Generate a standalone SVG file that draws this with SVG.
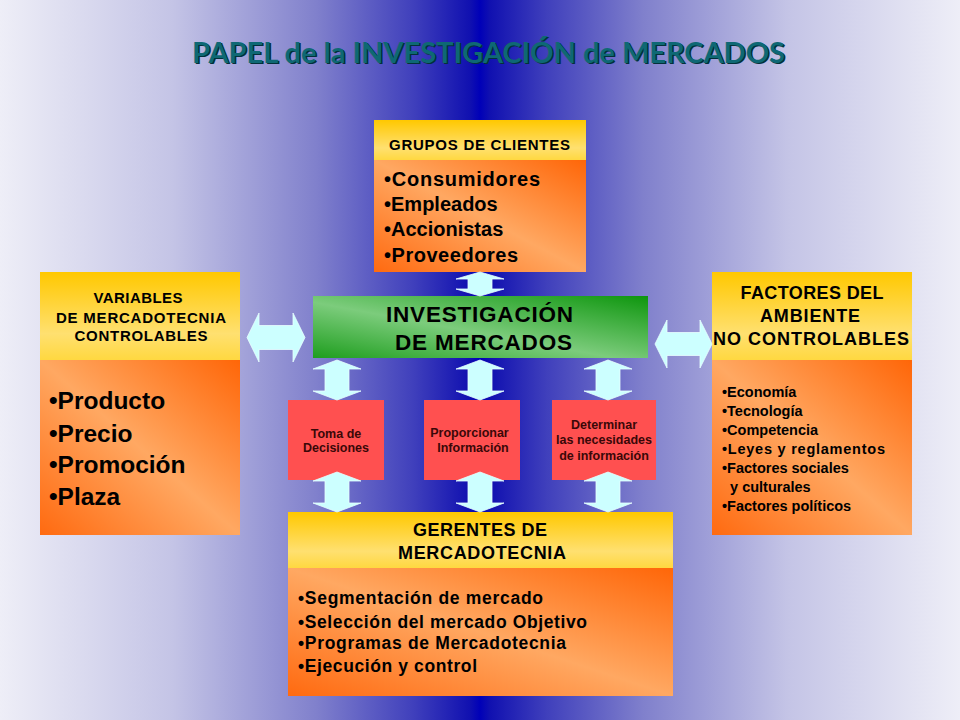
<svg xmlns="http://www.w3.org/2000/svg" width="960" height="720" viewBox="0 0 960 720">
<defs>
  <linearGradient id="bg" x1="0" y1="0" x2="1" y2="0">
    <stop offset="0" stop-color="#eeeef7"/>
    <stop offset="0.18" stop-color="#c4c4e6"/>
    <stop offset="0.33" stop-color="#8080cc"/>
    <stop offset="0.43" stop-color="#4040bc"/>
    <stop offset="0.49" stop-color="#1010b0"/>
    <stop offset="0.5" stop-color="#0000b8"/>
    <stop offset="0.51" stop-color="#1010b0"/>
    <stop offset="0.57" stop-color="#4040bc"/>
    <stop offset="0.67" stop-color="#8080cc"/>
    <stop offset="0.82" stop-color="#c4c4e6"/>
    <stop offset="1" stop-color="#eeeef7"/>
  </linearGradient>
  <linearGradient id="org" x1="0" y1="1" x2="1" y2="0">
    <stop offset="0" stop-color="#ff6a10"/>
    <stop offset="0.5" stop-color="#ffa862"/>
    <stop offset="1" stop-color="#ff6608"/>
  </linearGradient>
  <linearGradient id="yel" x1="0" y1="0" x2="0" y2="1">
    <stop offset="0" stop-color="#ffc800"/>
    <stop offset="0.7" stop-color="#ffe070"/>
    <stop offset="1" stop-color="#ffd840"/>
  </linearGradient>
  <linearGradient id="grn" x1="0" y1="1" x2="1" y2="0">
    <stop offset="0" stop-color="#1e9e1e"/>
    <stop offset="0.45" stop-color="#7ccc7c"/>
    <stop offset="1" stop-color="#0e960e"/>
  </linearGradient>
  <style>
    .t{font-family:"Liberation Sans",Arial,sans-serif;font-weight:bold;fill:#000}
    .hd{font-size:15px}
    .rt{font-size:12.5px;fill:#3a0808}
    .arw{fill:#ccffff;stroke:#e8ffff;stroke-width:0.8}
    .red{fill:#ff5050}
  </style>
</defs>

<rect x="0" y="0" width="960" height="720" fill="url(#bg)"/>

<g id="title">
  <text x="490" y="64" text-anchor="middle" font-family="Lato,'Open Sans',sans-serif" font-weight="bold" font-size="29" fill="#03303a" textLength="593" lengthAdjust="spacingAndGlyphs">PAPEL de la INVESTIGACIÓN de MERCADOS</text>
  <text x="488.5" y="62.5" text-anchor="middle" font-family="Lato,'Open Sans',sans-serif" font-weight="bold" font-size="29" fill="#0e6874" textLength="593" lengthAdjust="spacingAndGlyphs">PAPEL de la INVESTIGACIÓN de MERCADOS</text>
</g>

<g id="grupos-clientes">
  <rect x="374" y="120" width="212" height="40" fill="url(#yel)"/>
  <rect x="374" y="160" width="212" height="112" fill="url(#org)"/>
  <text class="t hd" x="389" y="150" textLength="181" lengthAdjust="spacing">GRUPOS DE CLIENTES</text>
  <g class="t" font-size="20">
    <text x="384" y="186" textLength="156" lengthAdjust="spacing">•Consumidores</text>
    <text x="384" y="211">•Empleados</text>
    <text x="384" y="236">•Accionistas</text>
    <text x="384" y="262" textLength="134" lengthAdjust="spacing">•Proveedores</text>
  </g>
</g>

<g id="investigacion">
  <rect x="313" y="296" width="335" height="62" fill="url(#grn)"/>
  <text class="t" font-size="22.5" x="386" y="322" textLength="187" lengthAdjust="spacing">INVESTIGACIÓN</text>
  <text class="t" font-size="22.5" x="395" y="350" textLength="177" lengthAdjust="spacing">DE MERCADOS</text>
</g>

<g id="variables">
  <rect x="40" y="272" width="200" height="88" fill="url(#yel)"/>
  <rect x="40" y="360" width="200" height="175" fill="url(#org)"/>
  <g class="t hd" text-anchor="middle">
    <text x="138" y="303" textLength="89" lengthAdjust="spacing">VARIABLES</text>
    <text x="141" y="323" textLength="170" lengthAdjust="spacing">DE MERCADOTECNIA</text>
    <text x="141" y="341" textLength="133" lengthAdjust="spacing">CONTROLABLES</text>
  </g>
  <g class="t" font-size="24.5">
    <text x="49" y="409">•Producto</text>
    <text x="49" y="442">•Precio</text>
    <text x="49" y="473">•Promoción</text>
    <text x="49" y="505">•Plaza</text>
  </g>
</g>

<g id="factores">
  <rect x="712" y="272" width="200" height="88" fill="url(#yel)"/>
  <rect x="712" y="360" width="200" height="175" fill="url(#org)"/>
  <g class="t" font-size="18" text-anchor="middle">
    <text x="812" y="299" textLength="143" lengthAdjust="spacing">FACTORES DEL</text>
    <text x="810" y="322" textLength="100" lengthAdjust="spacing">AMBIENTE</text>
    <text x="811" y="345" textLength="196" lengthAdjust="spacing">NO  CONTROLABLES</text>
  </g>
  <g class="t" font-size="14.5">
    <text x="722" y="397">•Economía</text>
    <text x="722" y="416">•Tecnología</text>
    <text x="722" y="435">•Competencia</text>
    <text x="722" y="454" textLength="163" lengthAdjust="spacing">•Leyes y reglamentos</text>
    <text x="722" y="473">•Factores sociales</text>
    <text x="722" y="492" xml:space="preserve">  y culturales</text>
    <text x="722" y="511">•Factores políticos</text>
  </g>
</g>

<g id="toma-decisiones">
  <rect class="red" x="288" y="400" width="96" height="80"/>
  <text class="t rt" x="336" y="438" text-anchor="middle">Toma de</text>
  <text class="t rt" x="336" y="452" text-anchor="middle">Decisiones</text>
</g>

<g id="proporcionar">
  <rect class="red" x="424" y="400" width="96" height="80"/>
  <text class="t rt" x="469.5" y="437" text-anchor="middle">Proporcionar</text>
  <text class="t rt" x="473" y="452" text-anchor="middle">Información</text>
</g>

<g id="determinar">
  <rect class="red" x="552" y="400" width="104" height="80"/>
  <text class="t rt" x="604" y="429" text-anchor="middle">Determinar</text>
  <text class="t rt" x="604" y="444" text-anchor="middle">las necesidades</text>
  <text class="t rt" x="604" y="460" text-anchor="middle">de información</text>
</g>

<g id="gerentes">
  <rect x="288" y="512" width="385" height="56" fill="url(#yel)"/>
  <rect x="288" y="568" width="385" height="128" fill="url(#org)"/>
  <g class="t" font-size="18" text-anchor="middle">
    <text x="480" y="536" textLength="134" lengthAdjust="spacing">GERENTES DE</text>
    <text x="482" y="559" textLength="168" lengthAdjust="spacing">MERCADOTECNIA</text>
  </g>
  <g class="t" font-size="17.5">
    <text x="298" y="604" textLength="245" lengthAdjust="spacing">•Segmentación de mercado</text>
    <text x="298" y="628" textLength="289" lengthAdjust="spacing">•Selección del mercado Objetivo</text>
    <text x="298" y="649" textLength="268" lengthAdjust="spacing">•Programas de Mercadotecnia</text>
    <text x="298" y="672" textLength="179" lengthAdjust="spacing">•Ejecución y control</text>
  </g>
</g>

<g id="connectors">
  <path class="arw" d="M480,272 L504,279 L492,279 L492,289 L504,289 L480,296 L456,289 L468,289 L468,279 L456,279 Z"/>
  <path class="arw" d="M247,337.5 L259,313 L259,325.5 L293,325.5 L293,313 L305,337.5 L293,362 L293,349.5 L259,349.5 L259,362 Z"/>
  <path class="arw" d="M655,344 L667,320 L667,332.5 L700,332.5 L700,320 L712,344 L700,368 L700,355.5 L667,355.5 L667,368 Z"/>
  <path class="arw" d="M337,360 L361,369 L349,369 L349,391 L361,391 L337,400 L313,391 L325,391 L325,369 L313,369 Z"/>
  <path class="arw" d="M480,360 L504,369 L492,369 L492,391 L504,391 L480,400 L456,391 L468,391 L468,369 L456,369 Z"/>
  <path class="arw" d="M608,360 L632,369 L620,369 L620,391 L632,391 L608,400 L584,391 L596,391 L596,369 L584,369 Z"/>
  <path class="arw" d="M337,472 L361,481 L349,481 L349,503 L361,503 L337,512 L313,503 L325,503 L325,481 L313,481 Z"/>
  <path class="arw" d="M480,472 L504,481 L492,481 L492,503 L504,503 L480,512 L456,503 L468,503 L468,481 L456,481 Z"/>
  <path class="arw" d="M608,472 L632,481 L620,481 L620,503 L632,503 L608,512 L584,503 L596,503 L596,481 L584,481 Z"/>
</g>
</svg>
